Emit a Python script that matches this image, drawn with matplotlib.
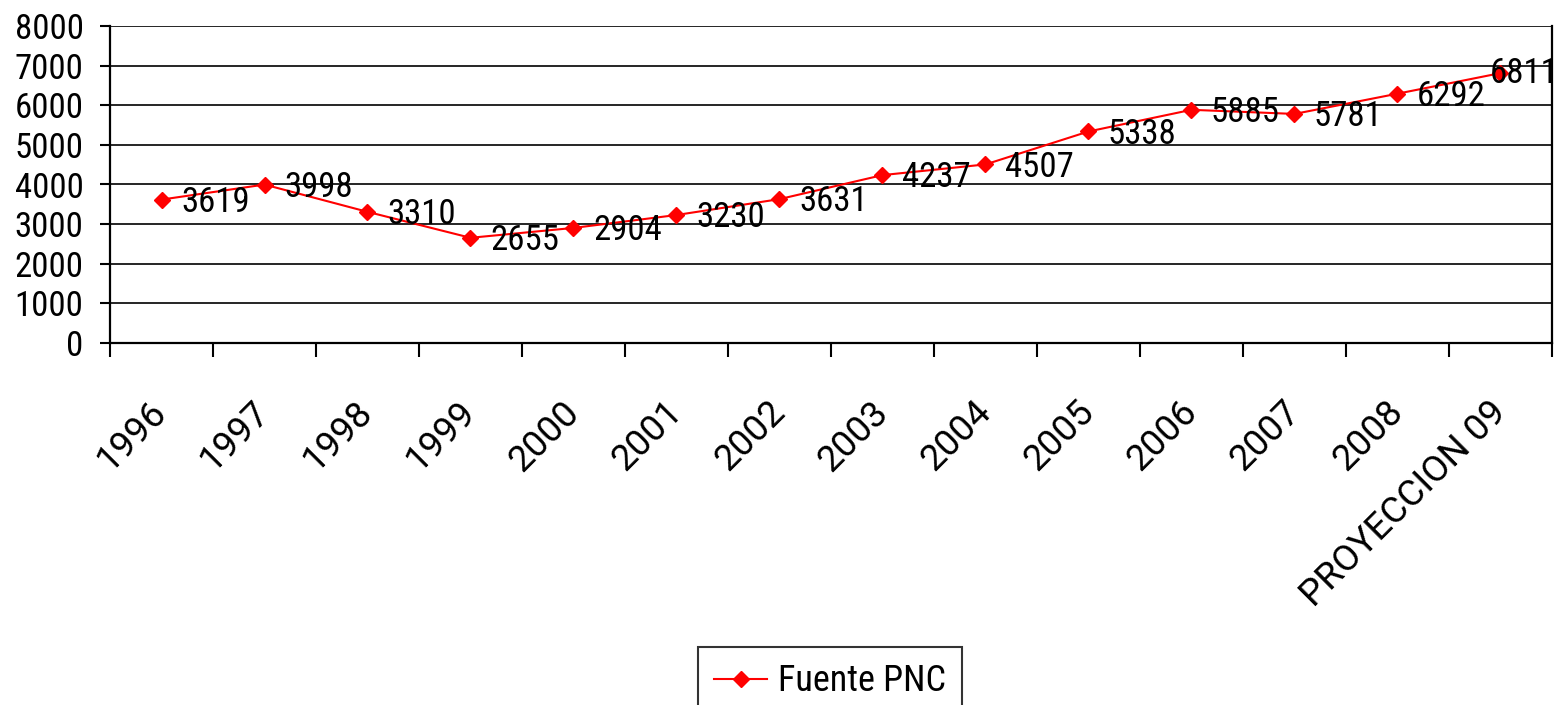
import matplotlib
matplotlib.use("Agg")
import matplotlib.pyplot as plt
from matplotlib import font_manager
import numpy as np

categories = ["1996", "1997", "1998", "1999", "2000", "2001", "2002", "2003",
              "2004", "2005", "2006", "2007", "2008", "PROYECCION 09"]
values = [3619, 3998, 3310, 2655, 2904, 3230, 3631, 4237, 4507, 5338, 5885,
          5781, 6292, 6811]
series_name = "Fuente PNC"
yticks = [0, 1000, 2000, 3000, 4000, 5000, 6000, 7000, 8000]

names = {f.name for f in font_manager.fontManager.ttflist}
chosen = None
for cand in ['Liberation Sans Narrow', 'Roboto Condensed', 'Open Sans Condensed',
             'DejaVu Sans Condensed']:
    if cand in names:
        chosen = cand
        break
if chosen is None:
    chosen = 'DejaVu Sans'
plt.rcParams['font.family'] = [chosen, 'DejaVu Sans']
plt.rcParams['font.stretch'] = 'condensed'
FS = 25

fig = plt.figure(figsize=(15.63, 7.05), dpi=100)
ax = fig.add_axes([110 / 1563, 1 - 343 / 705, (1552 - 110) / 1563, (343 - 26) / 705])

x = np.arange(len(categories))
ax.plot(x, values, color='#ff0000', lw=1.5, marker='D', markersize=8,
        markerfacecolor='#ff0000', markeredgecolor='#ff0000', label=series_name,
        clip_on=False, zorder=3)

n = len(values)
for i, (xi, v) in enumerate(zip(x, values)):
    if i == n - 1:
        ax.annotate(str(v), (xi, v), xytext=(42, 0), textcoords='offset points',
                    ha='right', va='center', fontsize=FS, zorder=4,
                    annotation_clip=False)
    else:
        ax.annotate(str(v), (xi, v), xytext=(14, -2), textcoords='offset points',
                    ha='left', va='center', fontsize=FS, zorder=4,
                    annotation_clip=False)

ax.set_xlim(-0.5, n - 0.5)
ax.set_ylim(0, 8000)
ax.set_yticks(yticks)
ax.set_yticklabels([str(t) for t in yticks], fontsize=FS)
for t in yticks:
    ax.axhline(t, color='black', lw=1.2, zorder=1)

xfam = ['Roboto', chosen, 'DejaVu Sans'] if 'Roboto' in names else [chosen, 'DejaVu Sans']
ax.set_xticks(x)
ax.set_xticklabels(categories, fontsize=26.5, rotation=45, ha='right',
                   va='center', rotation_mode='anchor', family=xfam,
                   fontstretch='normal')
ax.set_xticks(np.arange(-0.5, n), minor=True)
ax.tick_params(axis='x', which='major', length=0, pad=46)
ax.tick_params(axis='x', which='minor', length=10, width=1.5, direction='out')
ax.tick_params(axis='y', length=7, width=1.5, direction='out', pad=12)

ax.spines['top'].set_visible(False)
for s in ['left', 'right', 'bottom']:
    ax.spines[s].set_linewidth(1.6)
    ax.spines[s].set_color('black')

leg = fig.legend(loc='upper center', bbox_to_anchor=(830 / 1563, 1 - 647 / 705),
                 prop={'size': 26}, frameon=True, fancybox=False, edgecolor='black',
                 handlelength=1.45, borderpad=0.45, handletextpad=0.3,
                 borderaxespad=0)
leg.get_frame().set_linewidth(1.5)

fig.savefig("out.png", dpi=100)
